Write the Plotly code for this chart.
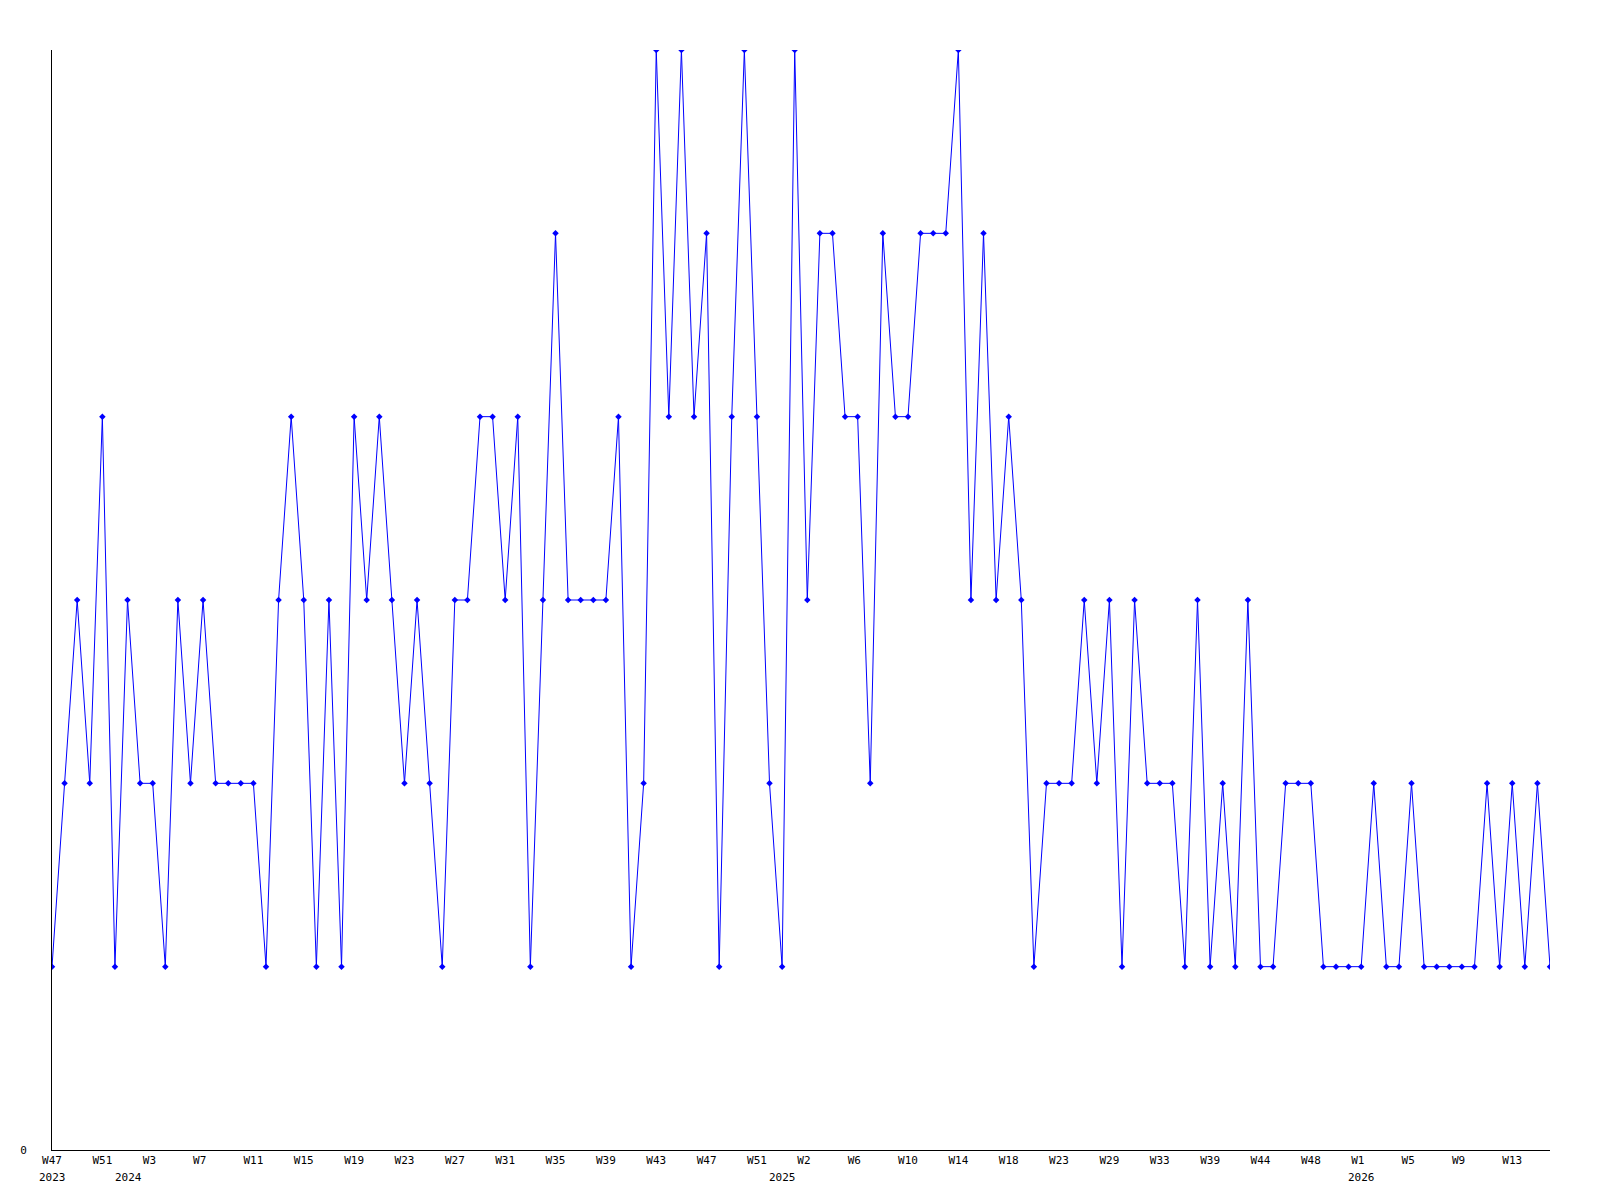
import plotly.graph_objects as go

# weekly counts, one point per week (some weeks missing in the source)
years = (["2023"] * 6 + ["2024"] * 52 + ["2025"] * 46 + ["2026"] * 16)
weeks = ([47, 48, 49, 50, 51, 52]
         + list(range(1, 53))
         + [0, 1, 2, 3, 4, 5, 6, 7, 8, 9, 10, 11, 12, 13, 14, 15, 16, 17, 18, 19, 20, 22,
            23, 24, 26, 28, 29, 30, 31, 32, 33, 34, 36, 37, 39, 40, 41, 43, 44, 45, 46, 47,
            48, 49, 50, 52]
         + list(range(1, 17)))
counts = [1, 2, 3, 2, 4, 1, 3, 2, 2, 1, 3, 2, 3, 2, 2, 2, 2, 1, 3, 4,
          3, 1, 3, 1, 4, 3, 4, 3, 2, 3, 2, 1, 3, 3, 4, 4, 3, 4, 1, 3,
          5, 3, 3, 3, 3, 4, 1, 2, 6, 4, 6, 4, 5, 1, 4, 6, 4, 2, 1, 6,
          3, 5, 5, 4, 4, 2, 5, 4, 4, 5, 5, 5, 6, 3, 5, 3, 4, 3, 1, 2,
          2, 2, 3, 2, 3, 1, 3, 2, 2, 2, 1, 3, 1, 2, 1, 3, 1, 1, 2, 2,
          2, 1, 1, 1, 1, 2, 1, 1, 2, 1, 1, 1, 1, 1, 2, 1, 2, 1, 2, 1]

week_labels = [f"W{w}" for w in weeks]
x = list(range(len(counts)))
tick_idx = x[::4]

FONT = "DejaVu Sans Mono"

fig = go.Figure()
fig.add_trace(go.Scatter(
    x=x,
    y=counts,
    mode="lines+markers",
    line=dict(color="#0000ff", width=1),
    marker=dict(symbol="diamond", size=5, color="#0000ff"),
    hovertext=[f"{y} {w}" for y, w in zip(years, week_labels)],
    showlegend=False
))

# labels in the source start a little left of the tick (left aligned),
# pad short ones so the monospace text lines up the same way
tick_text = [week_labels[i].ljust(3, "\u00a0") for i in tick_idx]

# year label under the first week of each year
prev = None
for i, yr in enumerate(years):
    if yr != prev:
        fig.add_annotation(
            x=i, xref="x", y=0, yref="paper", yshift=-27, xshift=-15,
            text=yr, showarrow=False, yanchor="middle", xanchor="left",
            font=dict(family=FONT, size=11, color="black")
        )
        prev = yr

fig.update_layout(
    width=1600,
    height=1200,
    paper_bgcolor="white",
    plot_bgcolor="white",
    margin=dict(l=42, r=58, t=42, b=58),
    font=dict(family=FONT, size=11, color="black"),
    xaxis=dict(
        range=[0, len(counts) - 1],
        tickvals=tick_idx,
        ticktext=tick_text,
        showgrid=False, zeroline=False,
        showline=True, linecolor="black", linewidth=1,
        ticks="", tickangle=0
    ),
    yaxis=dict(
        range=[0, 6],
        tickvals=[0],
        ticktext=["0"],
        showgrid=False, zeroline=False,
        showline=True, linecolor="black", linewidth=1,
        ticks="", ticklabelstandoff=22
    )
)

fig.write_html("out.html")
